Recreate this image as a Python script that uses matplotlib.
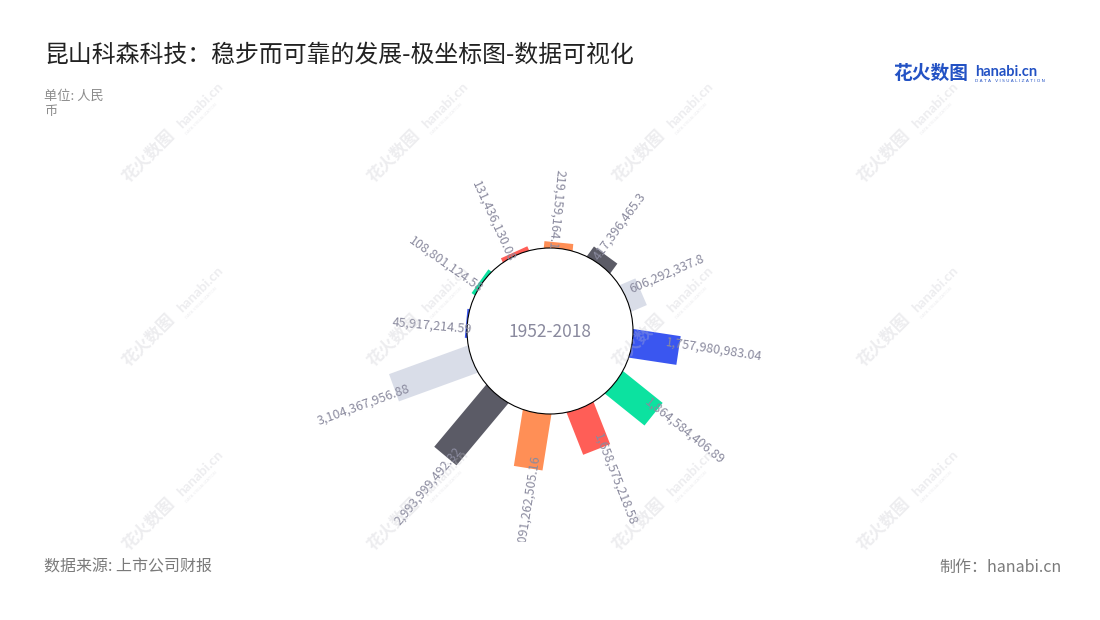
import matplotlib
matplotlib.use('Agg')
import matplotlib.pyplot as plt
import numpy as np
from matplotlib.patches import Circle
from matplotlib.transforms import Affine2D

plt.rcParams['font.family'] = ['Noto Sans CJK SC', 'DejaVu Sans']

# ---------------- data ----------------
years = ['2007', '2008', '2009', '2010', '2011', '2012',
         '2013', '2014', '2015', '2016', '2017', '2018']
values = [45917214.59, 108801124.58, 131436130.08, 219159164.1,
          417396465.3, 606292337.8, 1757980983.04, 1864584406.89,
          1658575218.58, 2091262505.16, 2993999492.32, 3104367956.88]
palette = ['#3a56f0', '#0ce2a0', '#ff5e57', '#ff8f56', '#5b5b66', '#d9dde8']
title = '昆山科森科技：稳步而可靠的发展-极坐标图-数据可视化'
center_label = '1952-2018'
unit_label = '单位: 人民\n币'
source_label = '数据来源: 上市公司财报'
credit_label = '制作：hanabi.cn'

# ---------------- layout ----------------
W, H = 1100, 620
fig = plt.figure(figsize=(11, 6.2), dpi=100)
fig.patch.set_facecolor('white')


def fx(x):
    return x / W


def fy(y):
    return 1 - y / H


clip_bottom = 542
ax = fig.add_axes([0, 1 - clip_bottom / H, 1, clip_bottom / H])
ax.patch.set_alpha(0)
ax.axis('off')

cx, cy = 550, 331
r_inner = 83
r_outer_max = 166
vmax = max(values)
scale = (r_outer_max - r_inner) / vmax
bar_w = 29
hidden = 2
n = len(values)
first_angle = 285          # clockwise from top, degrees (category band centre)
step = 360 / n
label_color = '#8a8a9e'

for k, (yr, v) in enumerate(zip(years, values)):
    phi = (first_angle + step * k) % 360
    length = v * scale
    r_out = r_inner + length
    # outer clockwise corner sits on the category angle
    theta = phi - np.degrees(np.arctan((bar_w / 2) / r_out))
    t = Affine2D().rotate_deg(theta - 90).translate(cx, cy) + ax.transData
    ax.barh([-bar_w / 2], [length + hidden], left=r_inner - hidden,
            height=bar_w, align='edge', color=palette[k % len(palette)],
            transform=t, zorder=2, linewidth=0)
    s = f"{v:,.2f}".rstrip('0').rstrip('.')
    off = -min(6 + 0.2 * length, 14)
    flip = not (30 <= phi < 180)
    if flip:
        rot, ha = 270 - theta, 'right'
    else:
        rot, ha = 90 - theta, 'left'
    ax.text(r_out + off, -6, s, transform=t, rotation=rot,
            rotation_mode='anchor', ha=ha, va='center', fontsize=9,
            color=label_color, zorder=5, clip_on=True)

ax.add_patch(Circle((cx, cy), r_inner, facecolor='white', edgecolor='black',
                    linewidth=0.8, zorder=3))
ax.text(cx, cy + 1, center_label, ha='center', va='center', fontsize=12.5,
        color=label_color, zorder=4)

ax.set_xlim(0, W)
ax.set_ylim(clip_bottom, 0)

# ---------------- texts ----------------
fig.text(fx(44), fy(55), title, fontsize=17.2, va='center', ha='left',
         color='#222222')
fig.text(fx(44), fy(90), unit_label, fontsize=9.5, va='top', ha='left',
         color='#8c8c8c', linespacing=1.25)
fig.text(fx(44), fy(567), source_label, fontsize=11.5, va='center',
         ha='left', color='#7a7a7a')
fig.text(fx(1062), fy(567), credit_label, fontsize=11.5, va='center',
         ha='right', color='#7a7a7a')

# logo
logo_blue = '#2352c4'
fig.text(fx(893), fy(73), '花火数图', fontsize=13.5, fontweight='bold',
         va='center', ha='left', color=logo_blue)
fig.text(fx(975), fy(76), 'hanabi.cn', fontsize=10.5, fontweight='bold',
         family='Lato', va='baseline', ha='left', color=logo_blue)
fig.text(fx(975), fy(81), 'D A T A   V I S U A L I Z A T I O N',
         fontsize=3.2, family='DejaVu Sans', va='center', ha='left',
         color=logo_blue)

# watermarks
wm_color = '#c4c4cc'
for i in range(4):
    for j in range(3):
        x0 = 128 + 245 * i
        y0 = 183 + 184 * j
        fig.text(fx(x0), fy(y0), '花火数图', fontsize=12, fontweight='bold',
                 rotation=45, rotation_mode='anchor', ha='left',
                 va='baseline', color=wm_color, alpha=0.3, zorder=10)
        d = 76 * 0.7071
        fig.text(fx(x0 + d), fy(y0 - d), 'hanabi.cn', fontsize=10,
                 fontweight='bold', family='Lato', rotation=45,
                 rotation_mode='anchor', ha='left', va='baseline',
                 color=wm_color, alpha=0.3, zorder=10)
        fig.text(fx(x0 + d + 5), fy(y0 - d + 5), 'DATA VISUALIZATION',
                 fontsize=3, family='DejaVu Sans', rotation=45,
                 rotation_mode='anchor', ha='left', va='center',
                 color=wm_color, alpha=0.3, zorder=10)

fig.savefig('out.png', dpi=100, facecolor='white')
